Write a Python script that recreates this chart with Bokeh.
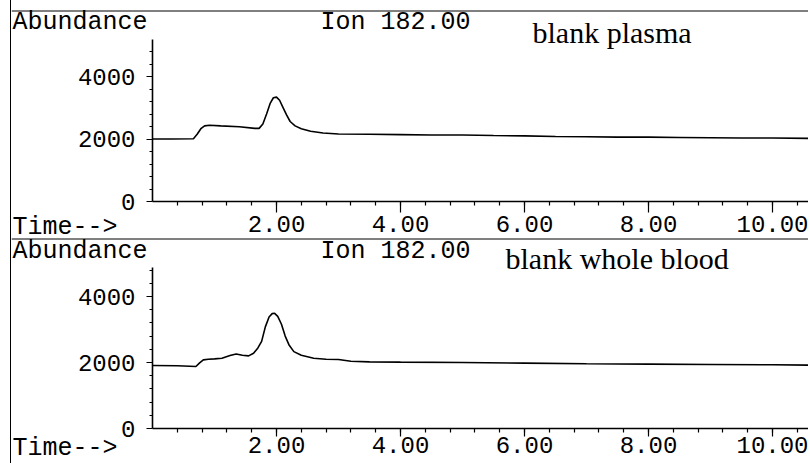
from bokeh.plotting import figure
from bokeh.models import Range1d, FixedTicker, Label, LinearAxis, Span
from bokeh.embed import file_html
from bokeh.resources import INLINE

# ---- data ----
plasma_time = [0.00, 0.30, 0.66, 0.72, 0.78, 0.84, 0.92, 1.10, 1.40, 1.65, 1.72, 1.78, 1.84, 1.90,
               1.95, 2.00, 2.05, 2.10, 2.16, 2.22, 2.30, 2.40, 2.55, 2.75, 3.00, 3.50, 4.00, 4.50,
               5.00, 5.50, 6.00, 6.50, 7.00, 7.50, 8.00, 8.50, 9.00, 9.50, 10.00, 10.60]
plasma_abund = [2000, 2000, 2010, 2150, 2330, 2420, 2440, 2420, 2390, 2340, 2340, 2480, 2800, 3150,
                3320, 3340, 3240, 3030, 2780, 2560, 2420, 2330, 2250, 2190, 2160, 2150, 2140, 2130,
                2130, 2110, 2100, 2080, 2070, 2060, 2060, 2050, 2040, 2030, 2030, 2020]

blood_time = [0.00, 0.40, 0.70, 0.76, 0.82, 0.90, 1.00, 1.12, 1.25, 1.35, 1.45, 1.55, 1.63, 1.70,
              1.76, 1.82, 1.88, 1.93, 1.97, 2.02, 2.08, 2.14, 2.20, 2.28, 2.40, 2.60, 2.80, 3.00,
              3.20, 3.50, 4.00, 5.00, 6.00, 7.00, 8.00, 9.00, 10.00, 10.60]
blood_abund = [1910, 1900, 1880, 1990, 2080, 2100, 2110, 2130, 2210, 2260, 2220, 2200, 2280, 2440,
               2640, 3080, 3380, 3480, 3490, 3400, 3160, 2800, 2540, 2330, 2220, 2130, 2100, 2090,
               2040, 2020, 2010, 2000, 1980, 1960, 1950, 1940, 1930, 1920]

x_major = [2, 4, 6, 8, 10]
x_major_labels = ["2.00", "4.00", "6.00", "8.00", "10.00"]
x_minor = [0.4, 0.8, 1.2, 1.6, 2.0, 2.4, 2.8, 3.2, 3.6, 4.0, 4.4, 4.8, 5.2, 5.6, 6.0, 6.4, 6.8,
           7.2, 7.6, 8.0, 8.4, 8.8, 9.2, 9.6, 10.0, 10.4]
y_major = [0, 2000, 4000]
y_major_labels = ["0", "2000", "4000"]
y_minor = [400, 800, 1200, 1600, 2000, 2400, 2800, 3200, 3600, 4000, 4400, 4800]

ion_label = "Ion 182.00"
panel_titles = ["blank plasma", "blank whole blood"]
y_label = "Abundance"
x_label = "Time-->"

MONO = "Liberation Mono"
SERIF = "Liberation Serif"
FS = "25px"
TICK_FS = "24px"
TITLE_FS = "30px"

# ---- page geometry (canvas is page x 11..808, y 0..462) ----
H = 463
PX_PER_MIN = 62.0
X_LEFT = -141.0 / PX_PER_MIN     # canvas left edge lies 141 px left of t = 0
X_RIGHT = 657.0 / PX_PER_MIN
Y0_TOP, K_TOP = 201.0, 0.03125   # page row of zero and px per unit, upper panel
Y0_BOT, K_BOT = 428.0, 0.033     # same for the lower panel

p = figure(width=798, height=H, output_backend="svg", toolbar_location=None,
           x_range=Range1d(X_LEFT, X_RIGHT),
           y_range=Range1d(-(H - Y0_TOP) / K_TOP, Y0_TOP / K_TOP),
           min_border=0, margin=(0, 0, 0, 10))
p.extra_y_ranges = {"blood": Range1d(-(H - Y0_BOT) / K_BOT, Y0_BOT / K_BOT)}
p.styles = {"border-left": "1px solid black"}
p.outline_line_color = None
p.xgrid.visible = False
p.ygrid.visible = False
p.background_fill_color = "white"
p.border_fill_color = "white"

p.add_layout(LinearAxis(y_range_name="blood"), "below")
p.add_layout(LinearAxis(y_range_name="blood"), "left")

y_tops = [5200, 4880]
x_tick_out = [11, 8]
x_standoff = [3, 0]
for i in range(2):
    xa, ya = p.below[i], p.left[i]
    xa.fixed_location = 0
    ya.fixed_location = 0
    xa.bounds = (0, X_RIGHT)
    ya.bounds = (0, y_tops[i])
    xa.ticker = FixedTicker(ticks=x_major, minor_ticks=x_minor)
    xa.major_label_overrides = dict(zip(x_major, x_major_labels))
    ya.ticker = FixedTicker(ticks=y_major, minor_ticks=y_minor)
    ya.major_label_overrides = dict(zip(y_major, y_major_labels))
    for ax in (xa, ya):
        ax.axis_line_color = "black"
        ax.axis_line_width = 1.6
        ax.major_tick_line_color = "black"
        ax.minor_tick_line_color = "black"
        ax.major_tick_line_width = 1.2
        ax.minor_tick_line_width = 1.2
        ax.major_tick_in = 0
        ax.minor_tick_in = 0
        ax.major_label_text_font = MONO
        ax.major_label_text_font_size = TICK_FS
        ax.major_label_text_color = "black"
    xa.major_tick_out = x_tick_out[i]
    xa.minor_tick_out = 4
    xa.major_label_standoff = x_standoff[i]
    ya.major_tick_out = 6
    ya.minor_tick_out = 3
    ya.major_label_standoff = 11

# frame rules: top line and the separator between the two records
p.add_layout(Span(location=(Y0_TOP - 10.5) / K_TOP, dimension="width",
                  line_color="black", line_width=1))
p.add_layout(Span(location=(Y0_TOP - 238.5) / K_TOP, dimension="width",
                  line_color="black", line_width=1))

p.line(plasma_time, plasma_abund, line_color="black", line_width=1.6)
p.line(blood_time, blood_abund, line_color="black", line_width=1.6, y_range_name="blood")


def px_x(px):
    return (px - 152.0) / PX_PER_MIN


def add_text(px, py, text, font, size, rng):
    if rng == "default":
        y = (Y0_TOP - py) / K_TOP
    else:
        y = (Y0_BOT - py) / K_BOT
    p.add_layout(Label(x=px_x(px), y=y, y_range_name=rng, text=text, text_font=font,
                       text_font_size=size, text_color="black", text_align="left",
                       text_baseline="alphabetic"))


add_text(12, 22, y_label, MONO, FS, "default")
add_text(320, 22, ion_label, MONO, FS, "default")
add_text(532, 32, panel_titles[0], SERIF, TITLE_FS, "default")
add_text(12, 227, x_label, MONO, FS, "default")

add_text(12, 251, y_label, MONO, FS, "blood")
add_text(320, 251, ion_label, MONO, FS, "blood")
add_text(505, 258, panel_titles[1], SERIF, TITLE_FS, "blood")
add_text(12, 448, x_label, MONO, FS, "blood")

open("out.html", "w").write(file_html(p, INLINE))
